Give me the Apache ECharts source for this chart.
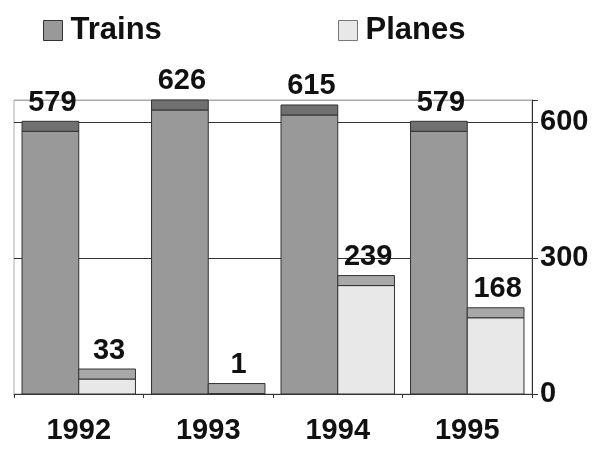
<!DOCTYPE html>
<html>
<head>
<meta charset="utf-8">
<script src="https://cdn.jsdelivr.net/npm/echarts@6/dist/echarts.min.js"></script>
<style>html,body{margin:0;padding:0;background:#fff}#c{width:595px;height:451px}</style>
</head>
<body>
<div id="c"></div>
<script>
const categories = ['1992', '1993', '1994', '1995'];
const trains = [579, 626, 615, 579];
const planes = [33, 1, 239, 168];
const yTicks = [0, 300, 600];

const FONT = '"Liberation Sans", Arial, sans-serif';

function makeRender(side, front, cap) {
  return function (params, api) {
    const idx = api.value(0), val = api.value(1);
    const base = api.coord([idx, 0]);
    const top = api.coord([idx, val]);
    const bw = api.size([1, 0])[0];
    const w = bw * 0.438;
    const x = side < 0 ? base[0] - w : base[0];
    const capH = 10;
    const capTop = top[1] - capH;
    return {
      type: 'group',
      children: [
        { type: 'rect', shape: { x: x, y: top[1], width: w, height: base[1] - top[1] },
          style: { fill: front, stroke: '#333', lineWidth: 1 } },
        { type: 'rect', shape: { x: x, y: capTop, width: w, height: capH },
          style: { fill: cap, stroke: '#333', lineWidth: 1 } },
        { type: 'text', style: { text: String(val), x: x + w / 2 + 2, y: capTop - 4,
          align: 'center', verticalAlign: 'bottom', fill: '#111',
          font: 'bold 29px ' + FONT } }
      ]
    };
  };
}

const chart = echarts.init(document.getElementById('c'), null, { renderer: 'canvas' });
chart.setOption({
  animation: false,
  backgroundColor: '#fff',
  grid: { left: 14, right: 63, top: 100, bottom: 57, show: true, borderColor: '#aaa', borderWidth: 1 },
  legend: [
    { left: 38, top: 10, itemWidth: 19, itemHeight: 20, icon: 'rect',
      data: [{ name: 'Trains', itemStyle: { color: '#999', borderColor: '#333', borderWidth: 1 } }],
      textStyle: { fontSize: 31, fontWeight: 'bold', color: '#111', fontFamily: FONT, padding: [0, 0, 0, 3] } },
    { left: 333, top: 10, itemWidth: 19, itemHeight: 20, icon: 'rect',
      data: [{ name: 'Planes', itemStyle: { color: '#e8e8e8', borderColor: '#777', borderWidth: 1 } }],
      textStyle: { fontSize: 31, fontWeight: 'bold', color: '#111', fontFamily: FONT, padding: [0, 0, 0, 3] } }
  ],
  xAxis: {
    type: 'category', data: categories, boundaryGap: true,
    axisLine: { lineStyle: { color: '#333', width: 1 } },
    axisTick: { show: true, length: 4, lineStyle: { color: '#333' } },
    axisLabel: { fontSize: 29, fontWeight: 'bold', color: '#111', fontFamily: FONT, margin: 22 }
  },
  yAxis: {
    type: 'value', position: 'right', min: 0, max: 648, interval: 300,
    axisLine: { show: true, lineStyle: { color: '#333', width: 1 } },
    axisTick: { show: true, length: 6, lineStyle: { color: '#333' } },
    axisLabel: { fontSize: 29, fontWeight: 'bold', color: '#111', fontFamily: FONT, margin: 8,
      formatter: function (v) { return yTicks.indexOf(v) >= 0 ? String(v) : ''; } },
    splitLine: { show: true, lineStyle: { color: ['#333', '#333', '#333', '#aaa'], width: 1 } }
  },
  series: [
    { name: 'Trains', type: 'custom', renderItem: makeRender(-1, '#999999', '#707070'),
      encode: { x: 0, y: 1 }, data: trains.map((v, i) => [i, v]), z: 5,
      itemStyle: { color: '#999' } },
    { name: 'Planes', type: 'custom', renderItem: makeRender(1, '#e8e8e8', '#a8a8a8'),
      encode: { x: 0, y: 1 }, data: planes.map((v, i) => [i, v]), z: 5,
      itemStyle: { color: '#e8e8e8' } }
  ]
});
</script>
</body>
</html>
